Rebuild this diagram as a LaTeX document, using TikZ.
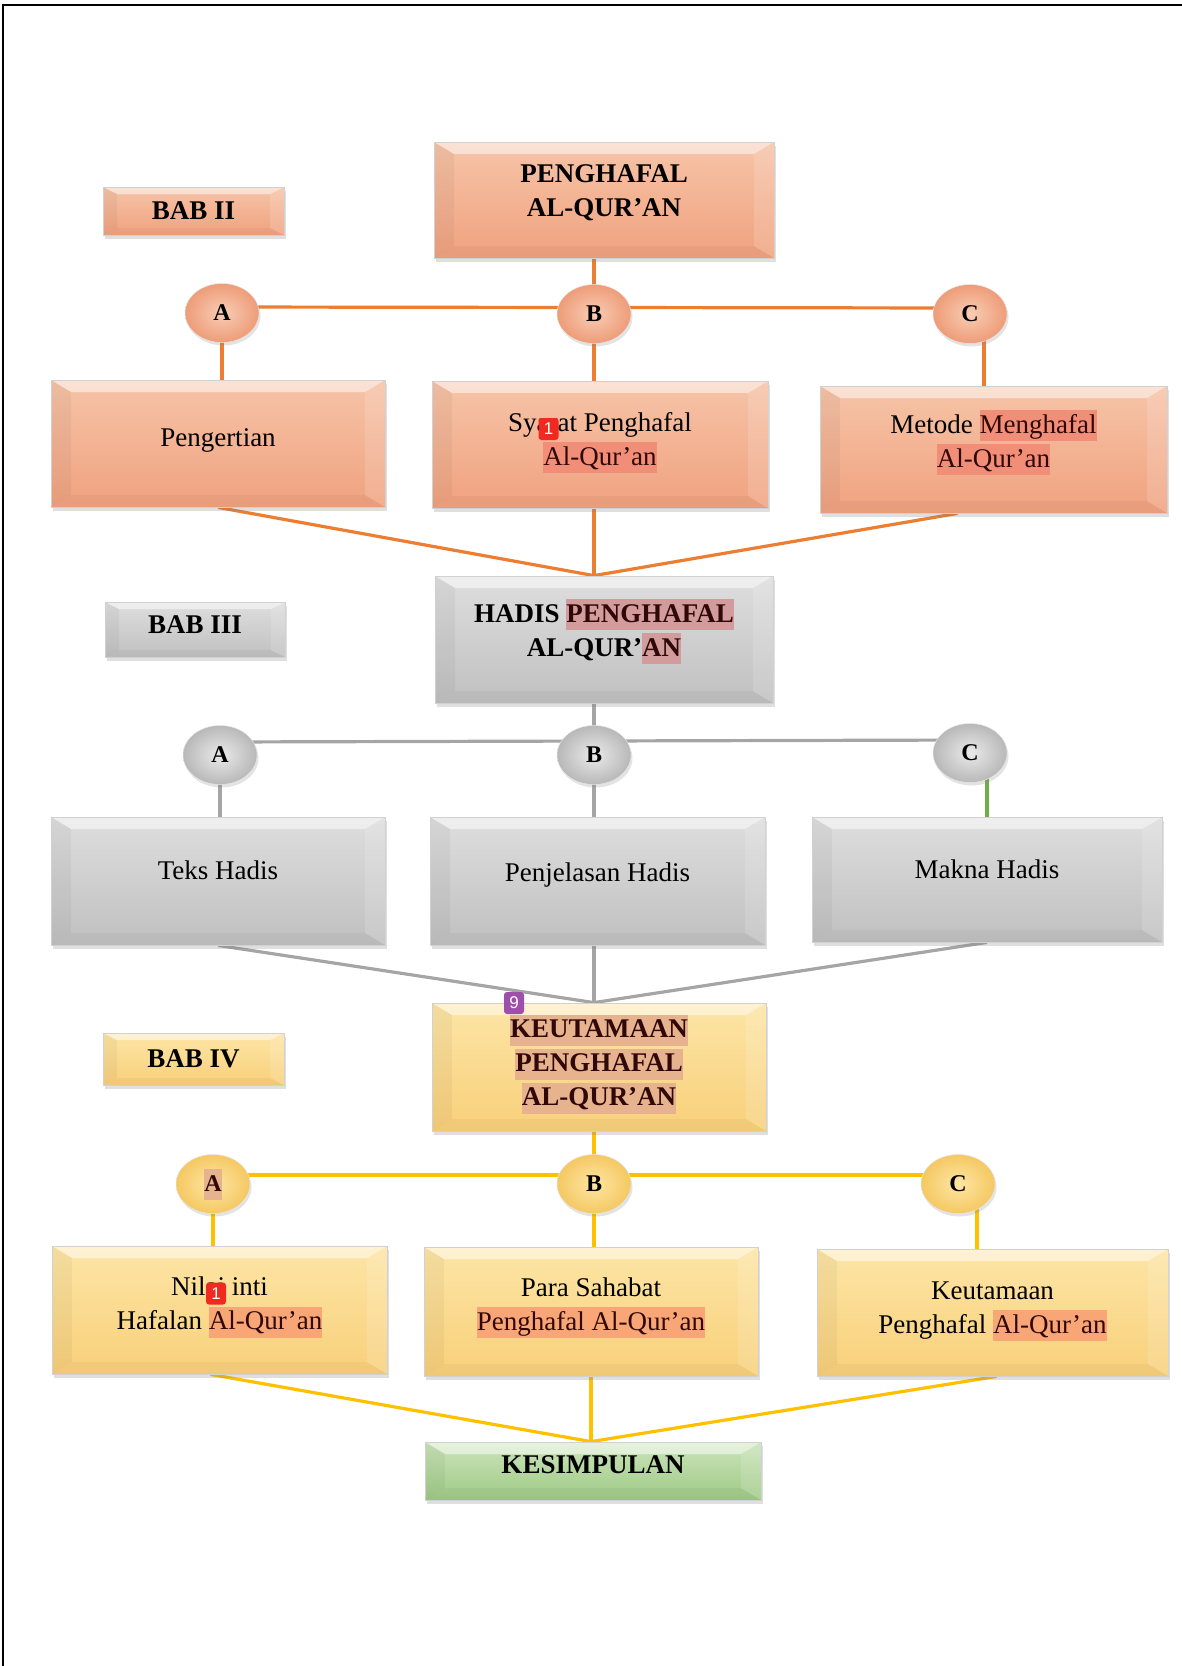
\documentclass[tikz,border=0pt]{standalone}
\usepackage{fontspec}
\setmainfont{Liberation Serif}
\newfontfamily\markfont{Liberation Sans}
\usetikzlibrary{shapes.geometric,shadows,calc}

% palette
\definecolor{orTop}{HTML}{F6C4A8}
\definecolor{orBot}{HTML}{F0A27F}
\definecolor{orLine}{HTML}{ED7D31}
\definecolor{orIn}{HTML}{F8CDB5}
\definecolor{orOut}{HTML}{EE9C78}
\definecolor{gyTop}{HTML}{DEDEDE}
\definecolor{gyBot}{HTML}{C0C0C0}
\definecolor{gyLine}{HTML}{A5A5A5}
\definecolor{gyIn}{HTML}{EAEAEA}
\definecolor{gyOut}{HTML}{B8B8B8}
\definecolor{ylTop}{HTML}{FDE5A6}
\definecolor{ylBot}{HTML}{F8D07A}
\definecolor{ylLine}{HTML}{FFC000}
\definecolor{ylIn}{HTML}{FDE6A4}
\definecolor{ylOut}{HTML}{F5C862}
\definecolor{grTop}{HTML}{CBE4BA}
\definecolor{grBot}{HTML}{9FCA86}
\definecolor{grLine}{HTML}{70AD47}
\definecolor{hlSalmon}{HTML}{F08E78}
\definecolor{hlRose}{HTML}{D39C9C}
\definecolor{hlTan}{HTML}{E6B38E}
\definecolor{hlPeach}{HTML}{F8A676}
\definecolor{hltext}{HTML}{300808}
\definecolor{markRed}{HTML}{F02A20}
\definecolor{markPurple}{HTML}{9E4FAA}

% highlighted word(s)
\newcommand\hilite[2]{{\setlength{\fboxsep}{0pt}\colorbox{#1}{\rule[-8pt]{0pt}{31pt}\textcolor{hltext}{#2}}}}

% centred lines of text, raised by #1 without changing the node size
\newcommand\lifted[2]{\raisebox{#1}[\height][\depth]{\begin{tabular}{@{}c@{}}#2\end{tabular}}}

% bevel faces drawn inside a box: #1 side width, #2 top/bottom height
\newcommand\bevelfaces[2]{%
  \path (path picture bounding box.north west) coordinate (q1)
        (path picture bounding box.north east) coordinate (q2)
        (path picture bounding box.south east) coordinate (q3)
        (path picture bounding box.south west) coordinate (q4);
  \path ([xshift=#1,yshift=-#2]q1) coordinate (r1)
        ([xshift=-#1,yshift=-#2]q2) coordinate (r2)
        ([xshift=-#1,yshift=#2]q3) coordinate (r3)
        ([xshift=#1,yshift=#2]q4) coordinate (r4);
  \fill[white,opacity=.5] (q1)--(q2)--(r2)--(r1)--cycle;
  \fill[black,opacity=.04] (q1)--(r1)--(r4)--(q4)--cycle;
  \fill[white,opacity=.14] (q2)--(q3)--(r3)--(r2)--cycle;
  \fill[black,opacity=.03] (q4)--(r4)--(r3)--(q3)--cycle;
}

\pgfdeclarelayer{background}
\pgfsetlayers{background,main}

\tikzset{
  bevelbox/.style={rectangle, draw=black!18, line width=.8pt, inner sep=0pt, align=center,
    path picture={\bevelfaces{20pt}{12pt}},
    drop shadow={shadow xshift=2pt, shadow yshift=-4pt, opacity=.25},
    font=\fontsize{27}{34}\selectfont},
  tagbox/.style={bevelbox, path picture={\bevelfaces{14pt}{7pt}},
    font=\fontsize{27}{34}\selectfont\bfseries},
  orbox/.style={bevelbox, top color=orTop, bottom color=orBot},
  gybox/.style={bevelbox, top color=gyTop, bottom color=gyBot},
  ylbox/.style={bevelbox, top color=ylTop, bottom color=ylBot},
  grbox/.style={bevelbox, top color=grTop, bottom color=grBot},
  headtext/.style={font=\fontsize{27}{34}\selectfont\bfseries},
  bubble/.style={ellipse, minimum width=74pt, minimum height=59pt, inner sep=0pt,
    draw=black!10, line width=.5pt,
    drop shadow={shadow xshift=1.5pt, shadow yshift=-3pt, opacity=.22},
    font=\fontsize{24}{28}\selectfont\bfseries},
  orbub/.style={bubble, inner color=orIn, outer color=orOut},
  gybub/.style={bubble, inner color=gyIn, outer color=gyOut},
  ylbub/.style={bubble, inner color=ylIn, outer color=ylOut},
  orwire/.style={draw=orLine, line width=3.2pt},
  gywire/.style={draw=gyLine, line width=3.2pt},
  ylwire/.style={draw=ylLine, line width=3.2pt},
  grwire/.style={draw=grLine, line width=3.2pt},
  marker/.style={rectangle, rounded corners=3pt, fill=#1, text=white, inner sep=0pt,
    minimum width=20pt, minimum height=22pt, font=\markfont\fontsize{17}{17}\selectfont},
}

\begin{document}
\begin{tikzpicture}[x=1pt,y=-1pt]
\useasboundingbox (0,0) rectangle (1182,1666);
% page frame
\draw[line width=1.6pt] (3,1666) -- (3,5) -- (1182,5);

% ---------- BAB II ----------
\node[tagbox, top color=orTop, bottom color=orBot, minimum width=181pt, minimum height=48pt] (bab2) at (193.5,211) {BAB II};
\node[orbox, headtext, minimum width=340pt, minimum height=116pt] (peng) at (604,200) {\lifted{7pt}{PENGHAFAL\\AL-QUR’AN}};

\node[orbub] (a1) at (222,313) {A};
\node[orbub] (b1) at (594,314) {B};
\node[orbub] (c1) at (970,314) {C};

\node[orbox, minimum width=334pt, minimum height=127pt] (p1) at (218,443.5) {\lifted{4pt}{Pengertian}};
\node[orbox, minimum width=336pt, minimum height=127pt] (s1) at (600,444.5) {\lifted{3pt}{Syarat Penghafal\\\hilite{hlSalmon}{Al-Qur’an}}};
\node[orbox, minimum width=347pt, minimum height=127pt] (m1) at (993.5,449.5) {\lifted{6pt}{Metode \hilite{hlSalmon}{Menghafal}\\\hilite{hlSalmon}{Al-Qur’an}}};

% ---------- BAB III ----------
\node[tagbox, top color=gyTop, bottom color=gyBot, minimum width=180pt, minimum height=55pt] (bab3) at (195,629.5) {\lifted{3pt}{BAB III}};
\node[gybox, headtext, minimum width=338pt, minimum height=127pt] (hadis) at (604,639.5) {\lifted{7pt}{HADIS \hilite{hlRose}{PENGHAFAL}\\AL-QUR’\hilite{hlRose}{AN}}};

\node[gybub] (a2) at (220,755) {A};
\node[gybub] (b2) at (594,755) {B};
\node[gybub] (c2) at (970,753) {C};

\node[gybox, minimum width=334pt, minimum height=128pt] (t2) at (218,881) {\lifted{8pt}{Teks Hadis}};
\node[gybox, minimum width=335pt, minimum height=128pt] (pj2) at (597.5,881) {\lifted{6pt}{Penjelasan Hadis}};
\node[gybox, minimum width=350pt, minimum height=125pt] (mk2) at (987,879.5) {\lifted{8pt}{Makna Hadis}};

% ---------- BAB IV ----------
\node[tagbox, top color=ylTop, bottom color=ylBot, minimum width=181pt, minimum height=52pt] (bab4) at (193.5,1059) {BAB IV};
\node[ylbox, headtext, minimum width=334pt, minimum height=128pt] (keut) at (599,1067) {\lifted{2pt}{\hilite{hlTan}{KEUTAMAAN}\\\hilite{hlTan}{PENGHAFAL}\\\hilite{hlTan}{AL-QUR’AN}}};

\node[ylbub] (a3) at (213,1184) {\hilite{hlTan}{A}};
\node[ylbub] (b3) at (594,1184) {B};
\node[ylbub] (c3) at (958,1184) {C};

\node[ylbox, minimum width=335pt, minimum height=128pt] (n3) at (219.5,1310) {\lifted{4pt}{Nilai inti\\Hafalan \hilite{hlPeach}{Al-Qur’an}}};
\node[ylbox, minimum width=334pt, minimum height=129pt] (ps3) at (591,1311.5) {\lifted{5pt}{Para Sahabat\\\hilite{hlPeach}{Penghafal Al-Qur’an}}};
\node[ylbox, minimum width=351pt, minimum height=127pt] (k3) at (992.5,1312.5) {\lifted{3pt}{Keutamaan\\Penghafal \hilite{hlPeach}{Al-Qur’an}}};

\node[grbox, headtext, minimum width=336pt, minimum height=58pt] (kes) at (593,1471) {\lifted{4pt}{KESIMPULAN}};

% ---------- connectors ----------
\begin{pgfonlayer}{background}
  % section II
  \draw[orwire] (b1.center) -- (b1.center |- peng.south);
  \draw[orwire] ([yshift=6pt]a1.center) -- ([yshift=6pt]c1.center);
  \draw[orwire] (a1.center) -- (a1.center |- p1.north);
  \draw[orwire] (b1.center) -- (b1.center |- s1.north);
  \draw[orwire] ([xshift=14pt]c1.center) -- ([xshift=14pt]c1.center |- m1.north);
  \coordinate (j1) at (b1.center |- hadis.north);
  \draw[orwire] (p1.south) -- (j1);
  \draw[orwire] (b1.center |- s1.south) -- (j1);
  \draw[orwire] ([xshift=-36pt]m1.south) -- (j1);
  % section III
  \draw[gywire] (b2.center) -- (b2.center |- hadis.south);
  \draw[gywire] ([yshift=13pt]a2.center) -- ([yshift=13pt]c2.center);
  \draw[gywire] (a2.center) -- (a2.center |- t2.north);
  \draw[gywire] (b2.center) -- (b2.center |- pj2.north);
  \draw[grwire] ([xshift=17pt]c2.center) -- ([xshift=17pt]c2.center |- mk2.north);
  \coordinate (j2) at (b2.center |- keut.north);
  \draw[gywire] (t2.south) -- (j2);
  \draw[gywire] (b2.center |- pj2.south) -- (j2);
  \draw[gywire] (mk2.south) -- (j2);
  % section IV
  \draw[ylwire] (b3.center) -- (b3.center |- keut.south);
  \draw[ylwire] ([yshift=9pt]a3.center) -- ([yshift=9pt]c3.center);
  \draw[ylwire] (a3.center) -- (a3.center |- n3.north);
  \draw[ylwire] (b3.center) -- (b3.center |- ps3.north);
  \draw[ylwire] ([xshift=19pt]c3.center) -- ([xshift=19pt]c3.center |- k3.north);
  \coordinate (j3) at (ps3.center |- kes.north);
  \draw[ylwire] ([xshift=-9pt]n3.south) -- (j3);
  \draw[ylwire] (ps3.south) -- (j3);
  \draw[ylwire] ([xshift=4pt]k3.south) -- (j3);
\end{pgfonlayer}

% comment markers
\node[marker=markRed] (mk1) at (548.5,429) {1};
\node[marker=markRed] (mk2n) at (216,1293.5) {1};
\node[marker=markPurple] (mk9) at (514,1003) {9};
\end{tikzpicture}
\end{document}
